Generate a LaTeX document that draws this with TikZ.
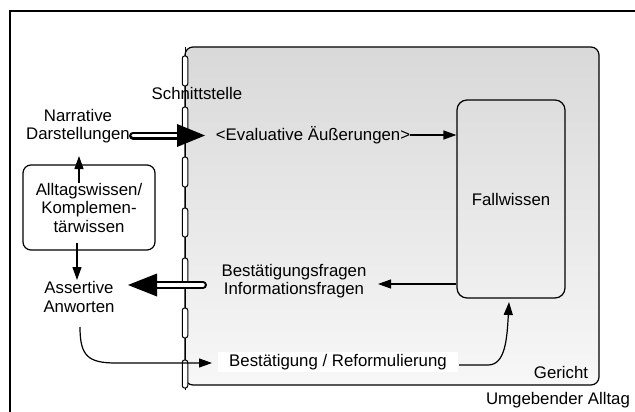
\documentclass[tikz,border=0pt]{standalone}
\usepackage{fontspec}
\setmainfont{Liberation Sans}
\usetikzlibrary{arrows.meta,calc}
\begin{document}
\begin{tikzpicture}[x=1pt,y=-1pt,
  txt/.style={inner sep=0pt, align=center, font=\fontsize{16.8}{18.5}\selectfont},
  box/.style={draw, line width=1.2pt, rounded corners=8pt},
  arr/.style={line width=1.2pt, -{Triangle[length=13pt,width=9pt]}},
  capsule/.style={draw, fill=white, line width=1pt, rounded corners=2.4pt, minimum width=5.5pt, inner sep=0pt},
  shaftout/.style={line width=8pt, line cap=round},
  shaftin/.style={white, line width=3.5pt, line cap=round},
]
\useasboundingbox (0,0) rectangle (635,412);
% outer frame (only left and top edges visible)
\draw[line width=1.2pt] (10,412) -- (10,11) -- (635,11);
% court box
\node[box, minimum width=414pt, minimum height=338pt, top color=black!15, bottom color=black!3] (court) at (392,216) {};
% interface line with capsules
\draw[line width=0.8pt] (185,47) -- (185,390);
\foreach \yc/\len [count=\i] in {71/30,122/30,172/30,222.5/29,273/30,323/30,374/28}
  \node[capsule, minimum height=\len pt] (cap\i) at (185,\yc) {};
% texts and boxes
\node[txt] (schnitt) at (197,93) {Schnittstelle};
\node[txt] (narr) at (78,126) {Narrative\\Darstellungen};
\node[txt, box, fill=white, minimum width=132pt, minimum height=85pt] (alltag) at (89,207.5) {Alltagswissen/\\Komplemen-\\tärwissen};
\node[txt] (assert) at (79,297) {Assertive\\Anworten};
\node[txt] (eval) at (313,135) {<Evaluative Äußerungen>};
\node[txt, box, rounded corners=10pt, minimum width=108pt, minimum height=198pt] (fall) at (511,199) {Fallwissen};
\node[txt] (fragen) at (294,281) {Bestätigungsfragen\\Informationsfragen};
\node[txt, fill=white, minimum width=240pt, minimum height=20pt] (bestref) at (338,362) {Bestätigung / Reformulierung};
\node[txt] (gericht) at (561,372) {Gericht};
\node[txt] (umg) at (558,400) {Umgebender Alltag};
% coordinates for free ends
\coordinate (a1) at (79,183);
\coordinate (a2) at (79,156);
\coordinate (b1) at (77,243);
\coordinate (b2) at (77,280);
\coordinate (f2) at (378,284);
\coordinate (d1s) at (133,135.5);
\coordinate (d1b) at (181,135.5);
\coordinate (d1t) at (205,135.5);
\coordinate (d2s) at (203,285);
\coordinate (d2b) at (153,285);
\coordinate (d2t) at (128,285);
\coordinate (c1) at (80,327);
\coordinate (c2) at (212,363);
\coordinate (c3) at (459,365);
\coordinate (c4) at (509,302);
% simple arrows
\draw[arr] (a1) -- (a2);
\draw[arr] (b1) -- (b2);
\draw[arr] (eval.east) -- (eval.east -| fall.west);
\draw[arr] (fall.west |- f2) -- (f2);
\draw[arr] (c1) .. controls (80,356) and (88,363) .. (116,363) -- (c2);
\draw[arr] (c3) -- (488,365) .. controls (505,365) and (507,340) .. (c4);
% double (hollow) arrows
\draw[shaftout] (d1s) -- (d1b);
\draw[shaftin] (d1s) -- (d1b);
\fill (d1t) -- ++(-28,-11.5) -- ++(0,23) -- cycle;
\draw[shaftout] (d2s) -- (d2b);
\draw[shaftin] (d2s) -- (d2b);
\fill (d2t) -- ++(29,-11.5) -- ++(0,23) -- cycle;
\end{tikzpicture}
\end{document}
